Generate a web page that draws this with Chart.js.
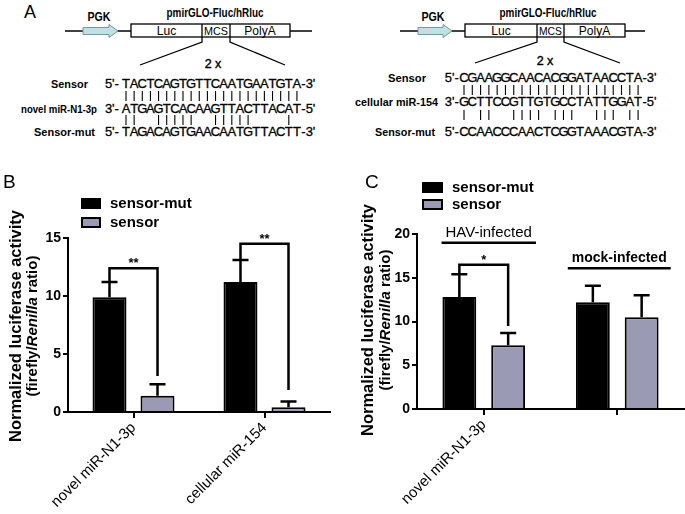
<!DOCTYPE html>
<html>
<head>
<meta charset="utf-8">
<script src="https://cdn.jsdelivr.net/npm/chart.js@4.4.1/dist/chart.umd.min.js"></script>
<style>
html, body { margin: 0; padding: 0; background: #fff; }
#page { position: relative; width: 685px; height: 514px; overflow: hidden; }
#panelA { position: absolute; left: 0; top: 0; }
#chartB { position: absolute; left: 0; top: 160px; }
#chartC { position: absolute; left: 340px; top: 160px; }
</style>
</head>
<body>
<div id="page">
  <svg id="panelA" width="685" height="160"></svg>
  <canvas id="chartB" width="340" height="354"></canvas>
  <canvas id="chartC" width="345" height="354"></canvas>
</div>
<script>
// ---- panel B values
const catsB = ['novel miR-N1-3p', 'cellular miR-154'];
const mutB = [9.9, 11.2];
const mutErrB = [1.3, 1.9];
const sensB = [1.4, 0.4];
const sensErrB = [1.0, 0.5];
const starsB = ['**', '**'];
const bracketTopB = [12.4, 14.5];
const bracketEndB = [3.1, 1.9];

// ---- panel C values
const catsC = ['novel miR-N1-3p', ''];
const mutC = [12.8, 12.2];
const mutErrC = [2.6, 1.9];
const sensC = [7.3, 10.5];
const sensErrC = [1.4, 2.5];
const starsC = ['*', null];
const bracketTopC = [16.5, null];
const bracketEndC = [9.5, null];
const groupNamesC = ['HAV-infected', 'mock-infected'];
const groupLineC = [19.0, 16.1];

// ---- panel A sequences
const seqL = ['TACTCAGTGTTCAATGAATGTA', 'ATGAGTCACAAGTTACTTACAT', 'TAGACAGTGAACAATGTTACTT'];
const seqR = ['CGAAGGCAACACGGATAACCTA', 'GCTTCCGTTGTGCCTATTGGAT', 'CCAACCCAACTCGGTAAACGTA'];
const rowNamesL = ['Sensor', 'novel miR-N1-3p', 'Sensor-mut'];
const rowNamesR = ['Sensor', 'cellular miR-154', 'Sensor-mut'];

const FONT = 'Arial, "Liberation Sans", sans-serif';
const GREY = '#9a9ab5';

// ================= panel A (svg) =================
const svg = document.getElementById('panelA');
const el = (tag, attrs, text) => {
    const e = document.createElementNS('http://www.w3.org/2000/svg', tag);
    for (const k in attrs) e.setAttribute(k, attrs[k]);
    if (text != null) e.textContent = text;
    svg.appendChild(e);
    return e;
};
const txt = (x, y, s, size, opts = {}) => {
    const a = {x: x, y: y, 'font-family': FONT, 'font-size': size, fill: '#000',
        'text-anchor': opts.anchor || 'middle', 'font-weight': opts.bold ? 'bold' : 'normal'};
    if (opts.w) { a.textLength = opts.w; a.lengthAdjust = 'spacingAndGlyphs'; }
    if (opts.heavy) { a.stroke = '#000'; a['stroke-width'] = opts.heavy; }
    return el('text', a, s);
};

const drawConstruct = (c) => {
    const y = 31, top = 24, bot = 37;
    el('line', {x1: c.lineL, y1: y, x2: c.boxL, y2: y, stroke: '#000', 'stroke-width': 1.5});
    el('line', {x1: c.boxR, y1: y, x2: c.lineR, y2: y, stroke: '#000', 'stroke-width': 1.5});
    const n = c.arrowR - 9;
    el('polygon', {points: `${c.arrowL},27.5 ${n},27.5 ${n},24.5 ${c.arrowR},31 ${n},37.5 ${n},34.5 ${c.arrowL},34.5`,
        fill: '#bfe1e4', stroke: '#6f9a9f', 'stroke-width': 1});
    el('rect', {x: c.boxL, y: top, width: c.boxR - c.boxL, height: bot - top, fill: '#fff', stroke: '#000', 'stroke-width': 1.3});
    el('line', {x1: c.div1, y1: top, x2: c.div1, y2: bot, stroke: '#000', 'stroke-width': 1.3});
    el('line', {x1: c.div2, y1: top, x2: c.div2, y2: bot, stroke: '#000', 'stroke-width': 1.3});
    txt((c.boxL + c.div1) / 2, 35, 'Luc', 12);
    txt((c.div1 + c.div2) / 2, 35, 'MCS', 11.5, {w: c.div2 - c.div1 - 4});
    txt((c.div2 + c.boxR) / 2, 35, 'PolyA', 12);
    txt(c.pgkX, 20.5, 'PGK', 12, {bold: true, w: 23});
    txt(c.titleX, 17, 'pmirGLO-Fluc/hRluc', 12, {bold: true, w: 97});
    el('polyline', {points: `${c.div1},${bot} ${c.div1},${bot + 5} ${c.fanL},${c.fanY}`, fill: 'none', stroke: '#000', 'stroke-width': 1.3});
    el('polyline', {points: `${c.div2},${bot} ${c.div2},${bot + 5} ${c.fanR},${c.fanY}`, fill: 'none', stroke: '#000', 'stroke-width': 1.3});
    txt(c.twoX, c.twoY + 4.5, '2 x', 12.5, {heavy: 0.4});
};

const pairs = {A: 'T', T: 'A', G: 'C', C: 'G'};
const drawSeqs = (s) => {
    const ends = [["5'-", "-3'"], ["3'-", "-5'"], ["5'-", "-3'"]];
    s.seqs.forEach((seq, r) => {
        const y = s.rowY[r] + 4.6;
        txt(s.labelRight[r], y, s.names[r], 11.5, {bold: true, anchor: 'end', w: s.labelW[r]});
        txt(s.firstX - s.pitch / 2 - s.gap, y, ends[r][0], 13, {anchor: 'end', heavy: 0.3});
        [...seq].forEach((ch, i) => txt(s.firstX + i * s.pitch, y, ch, 13, {heavy: 0.3}));
        txt(s.firstX + (seq.length - 0.5) * s.pitch + 0.3, y, ends[r][1], 13, {anchor: 'start', heavy: 0.3});
    });
    [0, 1].forEach(r => {
        const a = s.seqs[r], b = s.seqs[r + 1];
        [...a].forEach((ch, i) => {
            if (pairs[ch] !== b[i]) return;
            const x = s.firstX + i * s.pitch;
            el('line', {x1: x, y1: s.pipeY[r] - 5, x2: x, y2: s.pipeY[r] + 5, stroke: '#000', 'stroke-width': 1.1});
        });
    });
};

txt(30, 18, 'A', 18);
drawConstruct({lineL: 65, arrowL: 83, arrowR: 118, boxL: 131, div1: 202, div2: 230, boxR: 290, lineR: 312,
    pgkX: 99, titleX: 215, fanL: 140, fanR: 285, fanY: 65, twoX: 213, twoY: 63});
drawConstruct({lineL: 400, arrowL: 418, arrowR: 452, boxL: 465, div1: 537, div2: 564, boxR: 625, lineR: 645,
    pgkX: 433, titleX: 548, fanL: 475, fanR: 620, fanY: 63, twoX: 545, twoY: 60});
drawSeqs({seqs: seqL, names: rowNamesL, firstX: 126, pitch: 8.14, gap: 3, rowY: [83, 108, 131], pipeY: [96, 120],
    labelRight: [88, 97, 95], labelW: [37, 76, 61]});
drawSeqs({seqs: seqR, names: rowNamesR, firstX: 464, pitch: 8.29, gap: 1, rowY: [77, 101, 131], pipeY: [90, 115],
    labelRight: [426, 438, 435], labelW: [38, 83, 60]});

// ================= panels B, C (chart.js) =================
const extras = {
    id: 'extras',
    afterDraw(chart, args, o) {
        const ctx = chart.ctx, ys = chart.scales.y;
        const dsets = chart.data.datasets;
        ctx.save();
        ctx.strokeStyle = '#000';
        ctx.fillStyle = '#000';
        ctx.lineWidth = 2.5;

        // error bars (upper only)
        dsets.forEach((ds, i) => {
            chart.getDatasetMeta(i).data.forEach((bar, j) => {
                const top = ys.getPixelForValue(ds.data[j] + ds.err[j]);
                ctx.beginPath();
                ctx.moveTo(bar.x, bar.y);
                ctx.lineTo(bar.x, top);
                ctx.moveTo(bar.x - 8, top);
                ctx.lineTo(bar.x + 8, top);
                ctx.stroke();
            });
        });

        // significance brackets
        o.stars.forEach((s, j) => {
            if (!s) return;
            const a = chart.getDatasetMeta(0).data[j], b = chart.getDatasetMeta(1).data[j];
            const yt = ys.getPixelForValue(o.top[j]);
            ctx.beginPath();
            ctx.moveTo(a.x, ys.getPixelForValue(dsets[0].data[j] + dsets[0].err[j]));
            ctx.lineTo(a.x, yt);
            ctx.lineTo(b.x, yt);
            ctx.lineTo(b.x, ys.getPixelForValue(o.end[j]));
            ctx.stroke();
            ctx.font = 'bold 13px ' + FONT;
            ctx.textAlign = 'center';
            ctx.textBaseline = 'alphabetic';
            ctx.fillText(s, (a.x + b.x) / 2, yt - 1);
        });

        // group captions with underline
        (o.groups || []).forEach((g, j) => {
            const xs = chart.scales.x.getPixelForValue(j) + (o.groupDx || [0, 0])[j];
            const yl = ys.getPixelForValue(o.groupLine[j]);
            ctx.font = o.groupFont[j];
            ctx.textAlign = 'center';
            ctx.textBaseline = 'alphabetic';
            ctx.fillText(g, xs, yl - 6);
            const w = ctx.measureText(g).width / 2 + 4;
            ctx.beginPath();
            ctx.moveTo(xs - w, yl);
            ctx.lineTo(xs + w, yl);
            ctx.stroke();
        });

        // legend
        const L = o.legend;
        ctx.lineWidth = 2;
        dsets.forEach((ds, i) => {
            const y = L.y + i * L.gap;
            ctx.fillStyle = ds.backgroundColor;
            ctx.fillRect(L.x, y, L.w, L.h);
            ctx.strokeRect(L.x + 1, y + 1, L.w - 2, L.h - 2);
            ctx.fillStyle = '#000';
            ctx.font = 'bold 15px ' + FONT;
            ctx.textAlign = 'left';
            ctx.textBaseline = 'middle';
            ctx.fillText(ds.label, L.tx, y + L.h / 2);
        });

        // y-axis title, second line with italic Renilla
        const T = o.title;
        ctx.translate(T.x1, T.cy);
        ctx.rotate(-Math.PI / 2);
        ctx.textAlign = 'center';
        ctx.textBaseline = 'middle';
        ctx.font = 'bold 16.5px ' + FONT;
        ctx.fillText('Normalized luciferase activity', 0, 0);
        const parts = [['(firefly/', 'bold 15px '], ['Renilla', 'italic bold 15px '], [' ratio)', 'bold 15px ']];
        let total = 0;
        parts.forEach(p => { ctx.font = p[1] + FONT; total += ctx.measureText(p[0]).width; });
        let x = -total / 2;
        ctx.textAlign = 'left';
        parts.forEach(p => {
            ctx.font = p[1] + FONT;
            ctx.fillText(p[0], x, T.x2 - T.x1);
            x += ctx.measureText(p[0]).width;
        });
        ctx.setTransform(1, 0, 0, 1, 0, 0);

        // panel letter
        ctx.font = '19px ' + FONT;
        ctx.textAlign = 'left';
        ctx.textBaseline = 'alphabetic';
        ctx.fillText(o.letter[0], o.letter[1], o.letter[2]);
        ctx.restore();
    }
};

const makeChart = (id, c) => new Chart(document.getElementById(id), {
    type: 'bar',
    data: {
        labels: c.cats,
        datasets: [{
            label: 'sensor-mut', data: c.mut, err: c.mutErr,
            backgroundColor: '#000', borderColor: '#000', borderWidth: 2
        }, {
            label: 'sensor', data: c.sens, err: c.sensErr,
            backgroundColor: GREY, borderColor: '#000', borderWidth: 2
        }]
    },
    options: {
        responsive: false,
        animation: false,
        layout: {padding: {top: c.top, right: c.right, left: 0, bottom: 0}},
        datasets: {bar: {categoryPercentage: c.catPct, barPercentage: c.barPct}},
        plugins: {legend: {display: false}, tooltip: {enabled: false}, extras: c.extras},
        scales: {
            x: {
                grid: {offset: false, drawOnChartArea: false, color: '#000', lineWidth: 2, tickLength: 6},
                border: {color: '#000', width: 2},
                ticks: {color: '#000', font: {family: FONT, size: 15}, minRotation: 45, maxRotation: 45, padding: 1},
                afterFit: s => { s.height = c.xh; }
            },
            y: {
                min: 0, max: c.max,
                grid: {drawOnChartArea: false, color: '#000', lineWidth: 2, tickLength: 5},
                border: {color: '#000', width: 2},
                ticks: {stepSize: 5, color: '#000', font: {family: FONT, size: 14, weight: 'bold'}, padding: 2},
                afterFit: s => { s.width = c.yw; }
            }
        }
    },
    plugins: [extras]
});

makeChart('chartB', {
    cats: catsB, mut: mutB, mutErr: mutErrB, sens: sensB, sensErr: sensErrB,
    max: 15, top: 78, right: 10, xh: 102, yw: 68, catPct: 0.733, barPct: 0.708,
    extras: {
        stars: starsB, top: bracketTopB, end: bracketEndB,
        legend: {x: 81, y: 38, w: 20, h: 11, gap: 19, tx: 110},
        title: {x1: 16, x2: 33, cy: 166},
        letter: ['B', 3, 28]
    }
});

makeChart('chartC', {
    cats: catsC, mut: mutC, mutErr: mutErrC, sens: sensC, sensErr: sensErrC,
    max: 20, top: 74, right: 1, xh: 105, yw: 77, catPct: 0.731, barPct: 0.694,
    extras: {
        stars: starsC, top: bracketTopC, end: bracketEndC,
        groups: groupNamesC, groupLine: groupLineC, groupDx: [5, 2],
        groupFont: ['15px ' + FONT, 'bold 14px ' + FONT],
        legend: {x: 82, y: 22, w: 21, h: 11, gap: 17, tx: 112},
        title: {x1: 28, x2: 46, cy: 160},
        letter: ['C', 25, 28]
    }
});
</script>
</body>
</html>
